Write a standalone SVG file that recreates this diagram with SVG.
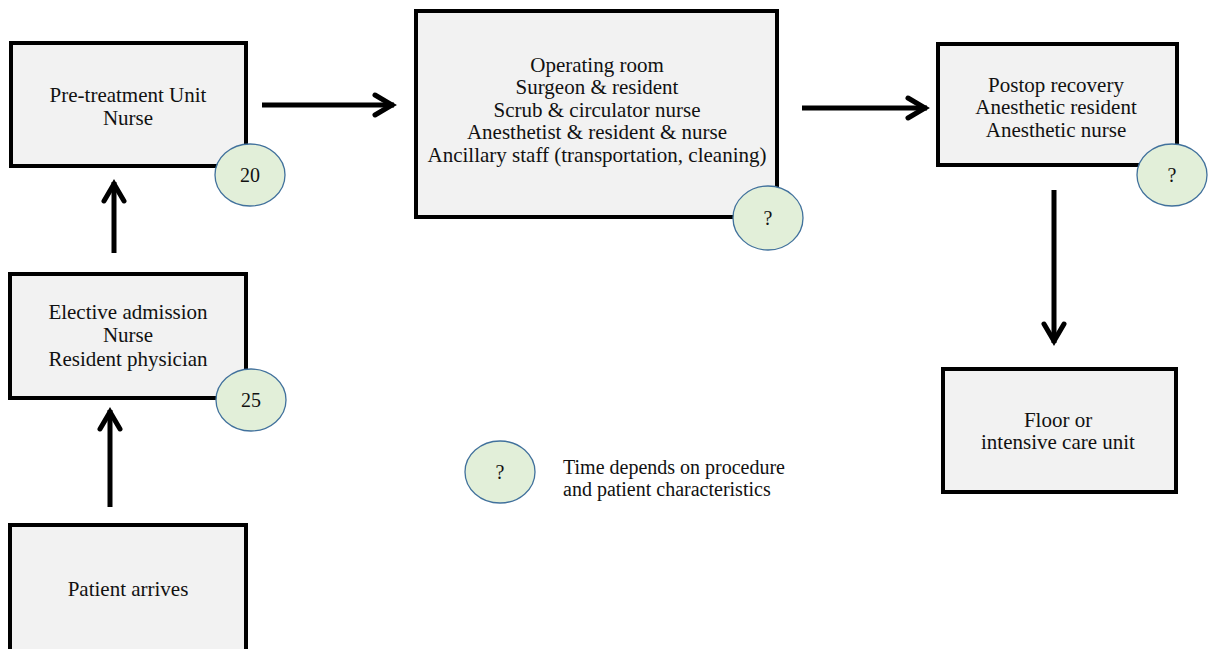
<svg xmlns="http://www.w3.org/2000/svg" width="1210" height="649" viewBox="0 0 1210 649">
  <style>
    .box { fill: #f2f2f2; stroke: #000; stroke-width: 4; }
    .badge { fill: #e2efd9; stroke: #41719c; stroke-width: 1.3; }
    .lbl { font-family: "Liberation Serif", "Times New Roman", serif; font-size: 21px; fill: #111; text-anchor: middle; }
    .num { font-family: "Liberation Serif", "Times New Roman", serif; font-size: 20px; fill: #111; text-anchor: middle; }
    .note { font-family: "Liberation Serif", "Times New Roman", serif; font-size: 20px; fill: #111; }
    .link { stroke: #000; stroke-width: 5; fill: none; marker-end: url(#head); }
  </style>
  <defs>
    <marker id="head" markerUnits="userSpaceOnUse" viewBox="-24 -14 28 28" refX="0" refY="0" markerWidth="28" markerHeight="28" orient="auto">
      <path d="M-19,-10 L-2,0 L-19,10" fill="none" stroke="#000" stroke-width="5" stroke-linejoin="miter" stroke-linecap="round"/>
    </marker>
  </defs>

  <!-- connectors -->
  <g id="connectors">
    <path class="link" d="M110,507 L110,410"/>
    <path class="link" d="M114,253 L114,182"/>
    <path class="link" d="M262,105 L394,105"/>
    <path class="link" d="M802,108 L927,108"/>
    <path class="link" d="M1054,190 L1054,343"/>
  </g>

  <g id="pretreatment">
    <rect class="box" x="11" y="43" width="235" height="123"/>
    <text class="lbl" x="128" y="102">Pre-treatment Unit</text>
    <text class="lbl" x="128" y="125">Nurse</text>
    <ellipse class="badge" cx="250" cy="175" rx="35" ry="31"/>
    <text class="num" x="250" y="182">20</text>
  </g>

  <g id="admission">
    <rect class="box" x="10" y="274" width="236" height="124"/>
    <text class="lbl" x="128" y="319">Elective admission</text>
    <text class="lbl" x="128" y="342">Nurse</text>
    <text class="lbl" x="128" y="366">Resident physician</text>
    <ellipse class="badge" cx="251" cy="400" rx="35" ry="31"/>
    <text class="num" x="251" y="407">25</text>
  </g>

  <g id="arrival">
    <rect class="box" x="10" y="525" width="236" height="128"/>
    <text class="lbl" x="128" y="596">Patient arrives</text>
  </g>

  <g id="operating-room">
    <rect class="box" x="416" y="11" width="361" height="206"/>
    <text class="lbl" x="597" y="72">Operating room</text>
    <text class="lbl" x="597" y="94">Surgeon &amp; resident</text>
    <text class="lbl" x="597" y="117">Scrub &amp; circulator nurse</text>
    <text class="lbl" x="597" y="139">Anesthetist &amp; resident &amp; nurse</text>
    <text class="lbl" x="597" y="162">Ancillary staff (transportation, cleaning)</text>
    <ellipse class="badge" cx="768" cy="218" rx="35" ry="32"/>
    <text class="num" x="768" y="225">?</text>
  </g>

  <g id="recovery">
    <rect class="box" x="938" y="44" width="239" height="121"/>
    <text class="lbl" x="1056" y="92">Postop recovery</text>
    <text class="lbl" x="1056" y="114">Anesthetic resident</text>
    <text class="lbl" x="1056" y="137">Anesthetic nurse</text>
    <ellipse class="badge" cx="1172" cy="175" rx="35" ry="31"/>
    <text class="num" x="1172" y="182">?</text>
  </g>

  <g id="ward">
    <rect class="box" x="943" y="369" width="233" height="123"/>
    <text class="lbl" x="1058" y="427">Floor or</text>
    <text class="lbl" x="1058" y="449">intensive care unit</text>
  </g>

  <g id="legend">
    <ellipse class="badge" cx="500" cy="472" rx="35" ry="31"/>
    <text class="num" x="500" y="479">?</text>
    <text class="note" x="563" y="474">Time depends on procedure</text>
    <text class="note" x="563" y="496">and patient characteristics</text>
  </g>
</svg>
